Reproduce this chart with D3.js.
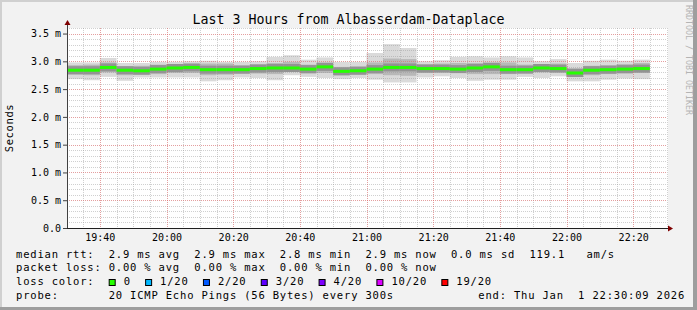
<!DOCTYPE html>
<html>
<head>
<meta charset="utf-8">
<script src="https://cdn.jsdelivr.net/npm/d3@7"></script>
<style>
body { margin: 0; background: #f2f2f2; }
svg { display: block; }
text { font-family: "DejaVu Sans Mono", monospace; fill: #000; }
</style>
</head>
<body>
<div id="chart"></div>
<script>
const title = "Last 3 Hours from Albasserdam-Dataplace";
const day = "2026-01-01";
const rangeStart = "19:30:09";
const rangeEnd = "22:30:09";

// end time of every 5 minute step
const stepEnd = ["19:35","19:40","19:45","19:50","19:55","20:00","20:05","20:10","20:15","20:20",
  "20:25","20:30","20:35","20:40","20:45","20:50","20:55","21:00","21:05","21:10",
  "21:15","21:20","21:25","21:30","21:35","21:40","21:45","21:50","21:55","22:00",
  "22:05","22:10","22:15","22:20","22:25"];

// values in ms
const median = [2.84,2.84,2.89,2.84,2.83,2.86,2.88,2.89,2.85,2.85,
  2.85,2.87,2.88,2.88,2.86,2.90,2.82,2.83,2.86,2.89,
  2.89,2.87,2.87,2.86,2.88,2.90,2.85,2.85,2.88,2.87,
  2.79,2.84,2.85,2.86,2.87];
const smokeHigh = [2.98,2.98,3.06,2.97,2.97,2.99,2.99,3.00,3.01,2.99,
  2.99,3.00,3.08,3.11,3.03,3.07,2.99,2.99,3.15,3.31,
  3.24,3.00,3.02,3.08,3.09,3.07,3.09,3.07,3.00,3.04,
  2.97,3.01,3.03,3.01,3.03];
const smokeLow = [2.68,2.66,2.72,2.65,2.71,2.71,2.71,2.71,2.64,2.66,
  2.71,2.70,2.66,2.75,2.72,2.70,2.68,2.70,2.67,2.62,
  2.62,2.71,2.73,2.70,2.65,2.67,2.67,2.72,2.70,2.73,
  2.64,2.64,2.67,2.69,2.68];
const smokeUpper = [2.93,2.94,2.98,2.91,2.92,2.94,2.94,2.95,2.96,2.96,
  2.93,2.95,2.97,2.99,2.94,2.98,2.90,2.91,2.98,3.05,
  3.04,2.95,2.96,2.97,2.97,2.98,2.98,2.94,2.95,2.96,
  2.88,2.92,2.93,2.95,2.97];
const smokeLower = [2.76,2.75,2.80,2.75,2.77,2.77,2.79,2.79,2.75,2.76,
  2.78,2.78,2.77,2.81,2.78,2.79,2.75,2.77,2.77,2.75,
  2.74,2.79,2.80,2.79,2.77,2.77,2.77,2.79,2.80,2.80,
  2.73,2.75,2.77,2.78,2.79];

const yTicks = [0, 0.5, 1.0, 1.5, 2.0, 2.5, 3.0, 3.5];

const statsRtt = "median rtt:  2.9 ms avg  2.9 ms max  2.8 ms min  2.9 ms now  0.0 ms sd  119.1   am/s";
const statsLoss = "packet loss: 0.00 % avg  0.00 % max  0.00 % min  0.00 % now";
const lossTitle = "loss color:";
const lossLabels = ["0", "1/20", "2/20", "3/20", "4/20", "10/20", "19/20"];
const lossColors = ["#26ff00", "#00b8ff", "#0059ff", "#5e00ff", "#7e00ff", "#dd00ff", "#ff0000"];
const probeText = "probe:       20 ICMP Echo Pings (56 Bytes) every 300s";
const endText = "end: Thu Jan  1 22:30:09 2026";
const watermark = "RRDTOOL / TOBI OETIKER";

const parseTime = d3.timeParse("%Y-%m-%d %H:%M:%S");
const at = (hms) => parseTime(`${day} ${hms.length === 5 ? hms + ":00" : hms}`);
const keepSpaces = (s) => s.replace(/ /g, "\u00a0");

const W = 697, H = 310;
const margin = { top: 28, right: 30, bottom: 82, left: 67 };
const width = W - margin.left - margin.right;
const height = H - margin.top - margin.bottom;

const svg = d3.select("#chart").append("svg")
    .attr("width", W)
    .attr("height", H);

// frame
svg.append("rect").attr("width", W).attr("height", H).attr("fill", "#f2f2f2");
svg.append("rect").attr("x", 0).attr("y", 0).attr("width", W).attr("height", 2).attr("fill", "#d0d0d0");
svg.append("rect").attr("x", 0).attr("y", 0).attr("width", 2).attr("height", H).attr("fill", "#d0d0d0");
svg.append("rect").attr("x", W - 4).attr("y", 0).attr("width", 4).attr("height", H).attr("fill", "#9e9e9e");
svg.append("rect").attr("x", 0).attr("y", H - 3).attr("width", W).attr("height", 3).attr("fill", "#9e9e9e");

svg.append("text")
    .attr("x", W / 2)
    .attr("y", 23.5)
    .attr("text-anchor", "middle")
    .style("font-size", "13.3px")
    .text(title);

const g = svg.append("g")
    .attr("transform", `translate(${margin.left}, ${margin.top})`);

const x = d3.scaleTime().domain([at(rangeStart), at(rangeEnd)]).range([0, width]);
const y = d3.scaleLinear().domain([0, 3.6]).range([height, 0]);

g.append("rect").attr("width", width + 1).attr("height", height).attr("fill", "#fff");

const steps = stepEnd.map((t, i) => {
    const end = at(t);
    const start = d3.timeMinute.offset(end, -5);
    return {
        x0: Math.max(0, x(start)),
        x1: x(end),
        med: median[i], hi: smokeHigh[i], lo: smokeLow[i], up: smokeUpper[i], dn: smokeLower[i],
    };
});

// smoke
g.append("g").selectAll("rect").data(steps).join("rect")
    .attr("x", (d) => d.x0).attr("width", (d) => d.x1 - d.x0)
    .attr("y", (d) => y(d.hi)).attr("height", (d) => y(d.lo) - y(d.hi))
    .attr("fill", "#dadada");
g.append("g").selectAll("rect").data(steps).join("rect")
    .attr("x", (d) => d.x0).attr("width", (d) => d.x1 - d.x0)
    .attr("y", (d) => y(d.up)).attr("height", (d) => y(d.dn) - y(d.up))
    .attr("fill", "#b8b8b8");
g.append("g").selectAll("rect").data(steps).join("rect")
    .attr("x", (d) => d.x0).attr("width", (d) => d.x1 - d.x0)
    .attr("y", (d) => y(d.med) - 4).attr("height", 8)
    .attr("fill", "#939393");

// grid
const crisp = (v) => Math.round(v) + 0.5;
const minorX = x.ticks(d3.timeMinute.every(5));
const majorX = x.ticks(d3.timeMinute.every(20));
const minorY = d3.range(1, 37).map((k) => k / 10);
const grid = g.append("g").attr("stroke-dasharray", "1,1").attr("stroke-width", 1);
grid.selectAll(".mx").data(minorX).join("line")
    .attr("x1", (d) => crisp(x(d))).attr("x2", (d) => crisp(x(d)))
    .attr("y1", 0).attr("y2", height)
    .attr("stroke", "rgba(150,150,150,0.45)");
grid.selectAll(".my").data(minorY).join("line")
    .attr("x1", 0).attr("x2", width)
    .attr("y1", (d) => crisp(y(d))).attr("y2", (d) => crisp(y(d)))
    .attr("stroke", "rgba(150,150,150,0.45)");
grid.selectAll(".Mx").data(majorX).join("line")
    .attr("x1", (d) => crisp(x(d))).attr("x2", (d) => crisp(x(d)))
    .attr("y1", 0).attr("y2", height)
    .attr("stroke", "rgba(255,90,90,0.42)");
grid.selectAll(".My").data(yTicks.slice(1)).join("line")
    .attr("x1", 0).attr("x2", width)
    .attr("y1", (d) => crisp(y(d))).attr("y2", (d) => crisp(y(d)))
    .attr("stroke", "rgba(255,90,90,0.42)");

// median
g.append("g").selectAll("line").data(steps).join("line")
    .attr("x1", (d) => d.x0).attr("x2", (d) => d.x1)
    .attr("y1", (d) => y(d.med)).attr("y2", (d) => y(d.med))
    .attr("stroke", lossColors[0])
    .attr("stroke-width", 3);

// axes
g.append("g")
    .attr("transform", `translate(0, ${height})`)
    .call(d3.axisBottom(x).ticks(d3.timeMinute.every(20)).tickFormat(d3.timeFormat("%H:%M")).tickSize(0).tickPadding(6))
    .call((a) => a.select(".domain").remove())
    .selectAll("text")
    .style("font-size", "10px");

g.append("g")
    .call(d3.axisLeft(y).tickValues(yTicks).tickFormat((d) => d === 0 ? "0.0" : `${d.toFixed(1)} m`).tickSize(4).tickPadding(2))
    .call((a) => a.select(".domain").remove())
    .call((a) => a.selectAll("line").attr("stroke", "#404040"))
    .selectAll("text")
    .style("font-size", "10px");

g.append("line").attr("x1", 0.5).attr("x2", 0.5).attr("y1", height).attr("y2", -4)
    .attr("stroke", "#404040");
g.append("line").attr("x1", 0).attr("x2", width + 3).attr("y1", height + 0.5).attr("y2", height + 0.5)
    .attr("stroke", "#202020");
g.append("path").attr("d", `M-2.5,-3 L3.5,-3 L0.5,-8 Z`).attr("fill", "#7f0000");
g.append("path").attr("d", `M${width + 1},${height - 2.5} L${width + 1},${height + 3.5} L${width + 6},${height + 0.5} Z`).attr("fill", "#7f0000");

svg.append("text")
    .attr("transform", `translate(13, ${margin.top + height / 2}) rotate(-90)`)
    .attr("text-anchor", "middle")
    .style("font-size", "10.5px")
    .style("letter-spacing", "0.6px")
    .text("Seconds");

svg.append("text")
    .attr("transform", `translate(686, 5) rotate(90)`)
    .style("font-size", "8.3px")
    .style("fill", "#b4b4b4")
    .text(keepSpaces(watermark));

// legend
const adv = 7.13;
const legend = svg.append("g")
    .style("font-size", "10.5px")
    .style("letter-spacing", `${adv - 10.5 * 0.602}px`);
const row = [257.5, 271, 285, 298.5];
legend.append("text").attr("x", 16).attr("y", row[0]).text(keepSpaces(statsRtt));
legend.append("text").attr("x", 16).attr("y", row[1]).text(keepSpaces(statsLoss));
legend.append("text").attr("x", 16).attr("y", row[2]).text(keepSpaces(lossTitle));
let cursor = 16 + 13 * adv;
lossLabels.forEach((lab, i) => {
    legend.append("rect")
        .attr("x", cursor + 0.5).attr("y", row[2] - 5.5)
        .attr("width", 6).attr("height", 6)
        .attr("fill", lossColors[i]).attr("stroke", "#000");
    legend.append("text").attr("x", cursor + 15).attr("y", row[2]).text(lab);
    cursor = cursor + 15 + lab.length * adv + 14.3;
});
legend.append("text").attr("x", 16).attr("y", row[3]).text(keepSpaces(probeText));
legend.append("text").attr("x", 478.3).attr("y", row[3]).text(keepSpaces(endText));
</script>
</body>
</html>
